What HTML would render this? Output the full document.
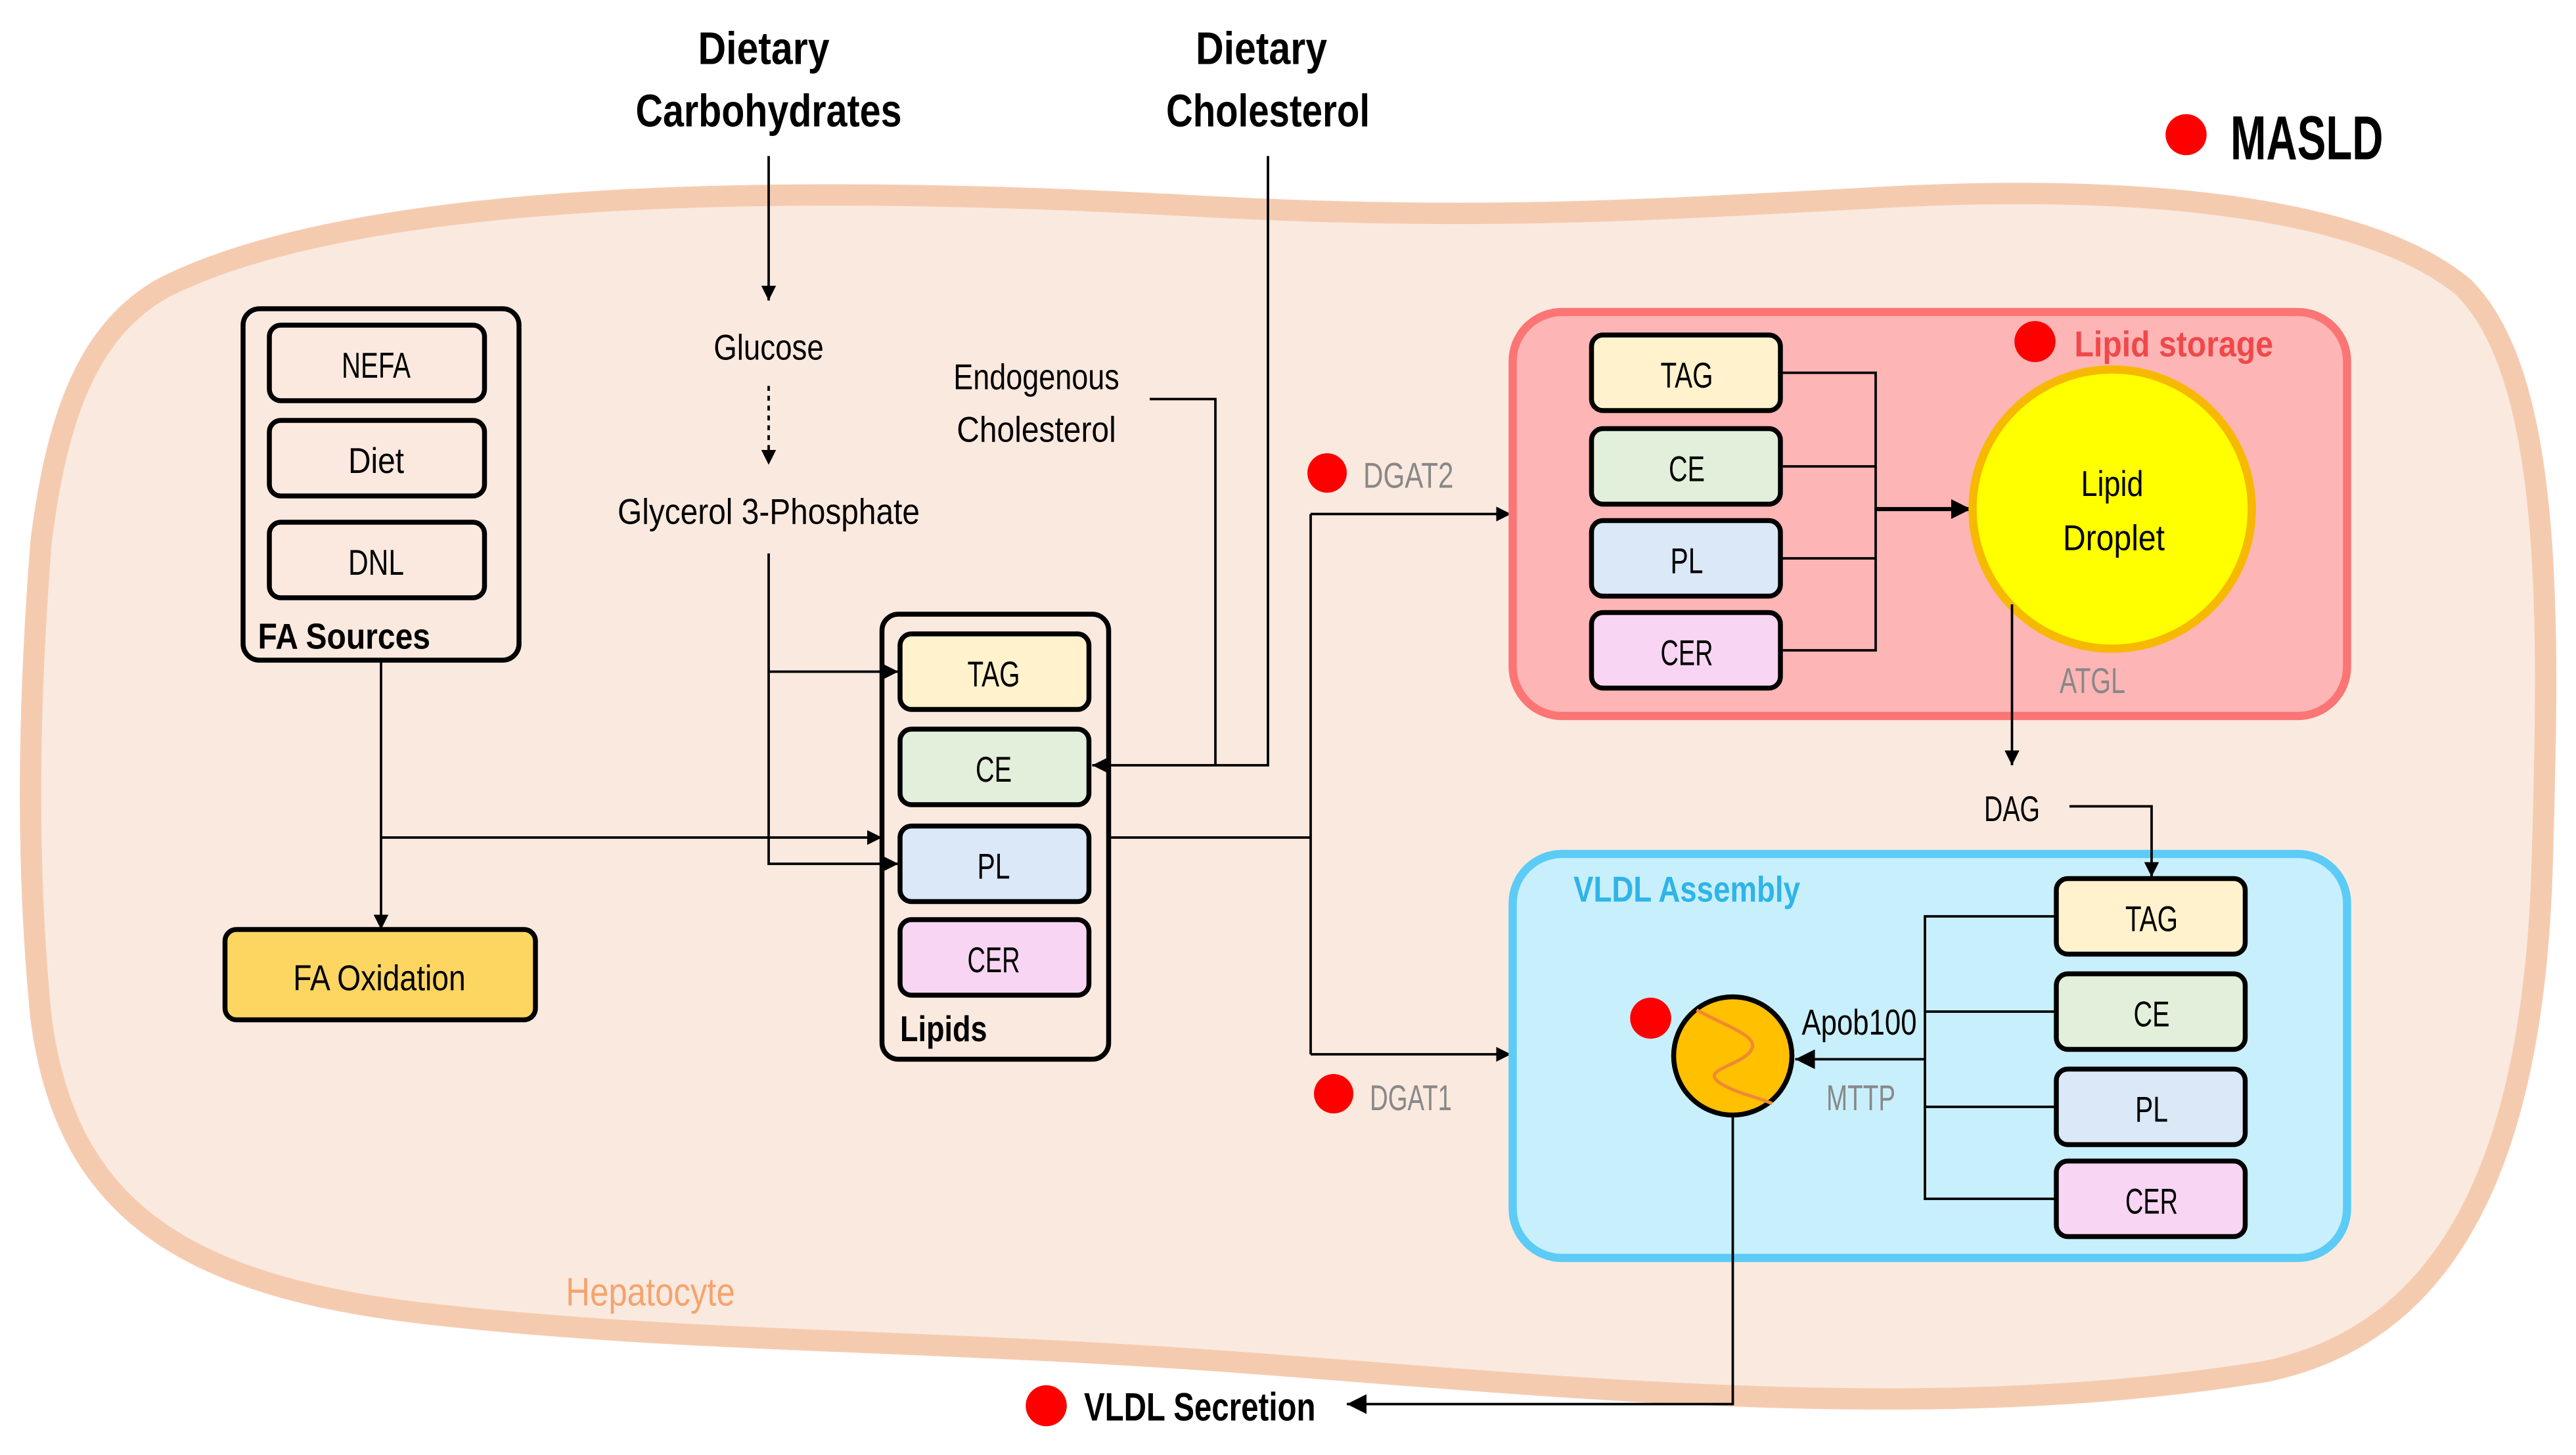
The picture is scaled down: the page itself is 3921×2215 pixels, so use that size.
<!DOCTYPE html>
<html><head><meta charset="utf-8"><style>
html,body{margin:0;padding:0;background:#fff;}
svg{display:block;}
text{font-family:"Liberation Sans Narrow","Liberation Sans",sans-serif;}
</style></head><body>
<svg width="3921" height="2215" viewBox="0 0 1568.4 886" xmlns="http://www.w3.org/2000/svg">
<defs>
<marker id="ar" viewBox="0 0 10 10" refX="10" refY="5" markerWidth="9" markerHeight="9" markerUnits="userSpaceOnUse" orient="auto"><path d="M0,0 L10,5 L0,10 z" fill="#000"/></marker>
<marker id="arb" viewBox="0 0 10 10" refX="10" refY="5" markerWidth="12" markerHeight="12" markerUnits="userSpaceOnUse" orient="auto"><path d="M0,0 L10,5 L0,10 z" fill="#000"/></marker>
</defs>
<rect width="1568.4" height="886" fill="#fff"/>
<!-- hepatocyte -->
<path d="M100,175 C220,115 480,112 720,125 C900,135 1000,128 1150,120 C1300,112 1440,125 1500,175 C1555,230 1552,380 1548,520 C1544,690 1500,810 1380,835 C1180,868 960,845 760,830 C560,815 420,818 260,800 C110,783 40,735 25,620 C15,520 18,420 25,330 C35,250 55,200 100,175 Z" fill="#fae9df" stroke="#f5cbb0" stroke-width="13"/>
<text x="396" y="795" font-size="24" fill="#f4a46e" text-anchor="middle" textLength="103" lengthAdjust="spacingAndGlyphs">Hepatocyte</text>

<!-- top labels -->
<g font-weight="bold" font-size="28" fill="#000" text-anchor="middle">
<text x="465" y="39" textLength="80" lengthAdjust="spacingAndGlyphs">Dietary</text>
<text x="468" y="77" textLength="162" lengthAdjust="spacingAndGlyphs">Carbohydrates</text>
<text x="768" y="39" textLength="80" lengthAdjust="spacingAndGlyphs">Dietary</text>
<text x="772" y="77" textLength="124" lengthAdjust="spacingAndGlyphs">Cholesterol</text>
</g>
<circle cx="1331" cy="82" r="12.5" fill="#f00"/>
<text x="1358" y="97" font-size="38" font-weight="bold" textLength="93" lengthAdjust="spacingAndGlyphs">MASLD</text>

<g font-size="22" fill="#000" text-anchor="middle">
<text x="468" y="219" textLength="67" lengthAdjust="spacingAndGlyphs">Glucose</text>
<text x="468" y="319" textLength="184" lengthAdjust="spacingAndGlyphs">Glycerol 3-Phosphate</text>
<text x="631" y="237" textLength="101" lengthAdjust="spacingAndGlyphs">Endogenous</text>
<text x="631" y="269" textLength="97" lengthAdjust="spacingAndGlyphs">Cholesterol</text>
</g>

<g stroke="#000" stroke-width="1.5" fill="none">
<line x1="468" y1="95" x2="468" y2="183" marker-end="url(#ar)"/>
<line x1="468" y1="235" x2="468" y2="283" stroke-dasharray="3,3" marker-end="url(#ar)"/>
<polyline points="468,337 468,526 547,526" marker-end="url(#ar)"/>
<polyline points="468,409 547,409" marker-end="url(#ar)"/>
<polyline points="772,95 772,466 665,466" marker-end="url(#ar)"/>
<polyline points="700,243 740,243 740,466"/>
<polyline points="232,402 232,566" marker-end="url(#ar)"/>
<polyline points="232,510 537,510" marker-end="url(#ar)"/>
<polyline points="675,510 798,510"/>
<polyline points="798,313 798,642"/>
<polyline points="798,313 920,313" marker-end="url(#ar)"/>
<polyline points="798,642 920,642" marker-end="url(#ar)"/>
</g>

<!-- FA sources -->
<rect x="148" y="188" width="168" height="214" rx="10" fill="none" stroke="#000" stroke-width="3"/>
<g stroke="#000" stroke-width="3" fill="#fbe9df">
<rect x="164" y="198" width="131" height="46" rx="7"/>
<rect x="164" y="256" width="131" height="46" rx="7"/>
<rect x="164" y="318" width="131" height="46" rx="7"/>
</g>
<g font-size="22" text-anchor="middle">
<text x="229" y="230" textLength="42" lengthAdjust="spacingAndGlyphs">NEFA</text>
<text x="229" y="288" textLength="34" lengthAdjust="spacingAndGlyphs">Diet</text>
<text x="229" y="350" textLength="34" lengthAdjust="spacingAndGlyphs">DNL</text>
</g>
<text x="157" y="395" font-size="22" font-weight="bold" textLength="105" lengthAdjust="spacingAndGlyphs">FA Sources</text>

<rect x="137" y="566" width="189" height="55" rx="7" fill="#fdd662" stroke="#000" stroke-width="3"/>
<text x="231" y="603" font-size="22" text-anchor="middle" textLength="105" lengthAdjust="spacingAndGlyphs">FA Oxidation</text>

<!-- Lipids -->
<rect x="537" y="374" width="138" height="271" rx="10" fill="none" stroke="#000" stroke-width="3"/>
<g stroke="#000" stroke-width="3">
<rect x="548" y="386" width="115" height="46" rx="7" fill="#fff2cc"/>
<rect x="548" y="444" width="115" height="46" rx="7" fill="#e2efda"/>
<rect x="548" y="503" width="115" height="46" rx="7" fill="#dae8f7"/>
<rect x="548" y="560" width="115" height="46" rx="7" fill="#f8d5f3"/>
</g>
<g font-size="22" text-anchor="middle">
<text x="605" y="418" textLength="32" lengthAdjust="spacingAndGlyphs">TAG</text>
<text x="605" y="476" textLength="22" lengthAdjust="spacingAndGlyphs">CE</text>
<text x="605" y="535" textLength="20" lengthAdjust="spacingAndGlyphs">PL</text>
<text x="605" y="592" textLength="32" lengthAdjust="spacingAndGlyphs">CER</text>
</g>
<text x="548" y="634" font-size="22" font-weight="bold" textLength="53" lengthAdjust="spacingAndGlyphs">Lipids</text>

<circle cx="808" cy="288" r="12" fill="#f00"/>
<text x="830" y="297" font-size="22" fill="#888" textLength="55" lengthAdjust="spacingAndGlyphs">DGAT2</text>
<circle cx="812" cy="666" r="12" fill="#f00"/>
<text x="834" y="676" font-size="22" fill="#888" textLength="50" lengthAdjust="spacingAndGlyphs">DGAT1</text>

<!-- Lipid storage -->
<rect x="921" y="190" width="508" height="246" rx="30" fill="#fdb5b5" stroke="#fb7575" stroke-width="5"/>
<circle cx="1239" cy="208" r="12.5" fill="#f00"/>
<text x="1263" y="217" font-size="22" font-weight="bold" fill="#f0484a" textLength="121" lengthAdjust="spacingAndGlyphs">Lipid storage</text>
<g stroke="#000" stroke-width="3">
<rect x="969" y="204" width="115" height="46" rx="7" fill="#fff2cc"/>
<rect x="969" y="261" width="115" height="46" rx="7" fill="#e2efda"/>
<rect x="969" y="317" width="115" height="46" rx="7" fill="#dae8f7"/>
<rect x="969" y="373" width="115" height="46" rx="7" fill="#f8d5f3"/>
</g>
<g font-size="22" text-anchor="middle">
<text x="1027" y="236" textLength="32" lengthAdjust="spacingAndGlyphs">TAG</text>
<text x="1027" y="293" textLength="22" lengthAdjust="spacingAndGlyphs">CE</text>
<text x="1027" y="349" textLength="20" lengthAdjust="spacingAndGlyphs">PL</text>
<text x="1027" y="405" textLength="32" lengthAdjust="spacingAndGlyphs">CER</text>
</g>
<g stroke="#000" stroke-width="1.5" fill="none">
<polyline points="1084,227 1142,227 1142,396 1084,396"/>
<line x1="1084" y1="284" x2="1142" y2="284"/>
<line x1="1084" y1="340" x2="1142" y2="340"/>
<line x1="1142" y1="310" x2="1200" y2="310" stroke-width="2.5" marker-end="url(#arb)"/>
</g>
<circle cx="1286" cy="310" r="85" fill="#ffff00" stroke="#f7b800" stroke-width="5"/>
<g font-size="22" text-anchor="middle">
<text x="1286" y="302" textLength="38" lengthAdjust="spacingAndGlyphs">Lipid</text>
<text x="1287" y="335" textLength="62" lengthAdjust="spacingAndGlyphs">Droplet</text>
</g>
<text x="1274" y="422" font-size="22" fill="#888" text-anchor="middle" textLength="40" lengthAdjust="spacingAndGlyphs">ATGL</text>
<g stroke="#000" stroke-width="1.5" fill="none">
<line x1="1225" y1="368" x2="1225" y2="466" marker-end="url(#ar)"/>
</g>
<text x="1225" y="500" font-size="22" text-anchor="middle" textLength="34" lengthAdjust="spacingAndGlyphs">DAG</text>

<!-- VLDL Assembly -->
<rect x="921" y="520" width="508" height="246" rx="30" fill="#c8effc" stroke="#5ccbf6" stroke-width="5"/>
<g stroke="#000" stroke-width="1.5" fill="none">
<polyline points="1260,491 1310,491 1310,534" marker-end="url(#ar)"/>
</g>
<text x="958" y="549" font-size="22" font-weight="bold" fill="#2fb4e8" textLength="138" lengthAdjust="spacingAndGlyphs">VLDL Assembly</text>
<g stroke="#000" stroke-width="3">
<rect x="1252" y="535" width="115" height="46" rx="7" fill="#fff2cc"/>
<rect x="1252" y="593" width="115" height="46" rx="7" fill="#e2efda"/>
<rect x="1252" y="651" width="115" height="46" rx="7" fill="#dae8f7"/>
<rect x="1252" y="707" width="115" height="46" rx="7" fill="#f8d5f3"/>
</g>
<g font-size="22" text-anchor="middle">
<text x="1310" y="567" textLength="32" lengthAdjust="spacingAndGlyphs">TAG</text>
<text x="1310" y="625" textLength="22" lengthAdjust="spacingAndGlyphs">CE</text>
<text x="1310" y="683" textLength="20" lengthAdjust="spacingAndGlyphs">PL</text>
<text x="1310" y="739" textLength="32" lengthAdjust="spacingAndGlyphs">CER</text>
</g>
<g stroke="#000" stroke-width="1.5" fill="none">
<polyline points="1252,558 1172,558 1172,730 1252,730"/>
<line x1="1252" y1="616" x2="1172" y2="616"/>
<line x1="1252" y1="674" x2="1172" y2="674"/>
<line x1="1172" y1="645" x2="1093" y2="645" marker-end="url(#arb)"/>
</g>
<text x="1097" y="630" font-size="22" textLength="70" lengthAdjust="spacingAndGlyphs">Apob100</text>
<text x="1112" y="676" font-size="22" fill="#888" textLength="42" lengthAdjust="spacingAndGlyphs">MTTP</text>
<circle cx="1005" cy="620" r="12.5" fill="#f00"/>
<circle cx="1055" cy="643" r="36" fill="#ffc000" stroke="#000" stroke-width="3"/>
<path d="M1033,615 C1055,627 1075,632 1064,642 C1055,650 1035,652 1048,660 C1058,666 1070,668 1079,672" fill="none" stroke="#f08a30" stroke-width="2"/>
<g stroke="#000" stroke-width="1.5" fill="none">
<polyline points="1055,680 1055,855 820,855" marker-end="url(#arb)"/>
</g>
<circle cx="637" cy="856" r="12.5" fill="#f00"/>
<text x="660" y="865" font-size="24" font-weight="bold" textLength="141" lengthAdjust="spacingAndGlyphs">VLDL Secretion</text>
</svg>
</body></html>
